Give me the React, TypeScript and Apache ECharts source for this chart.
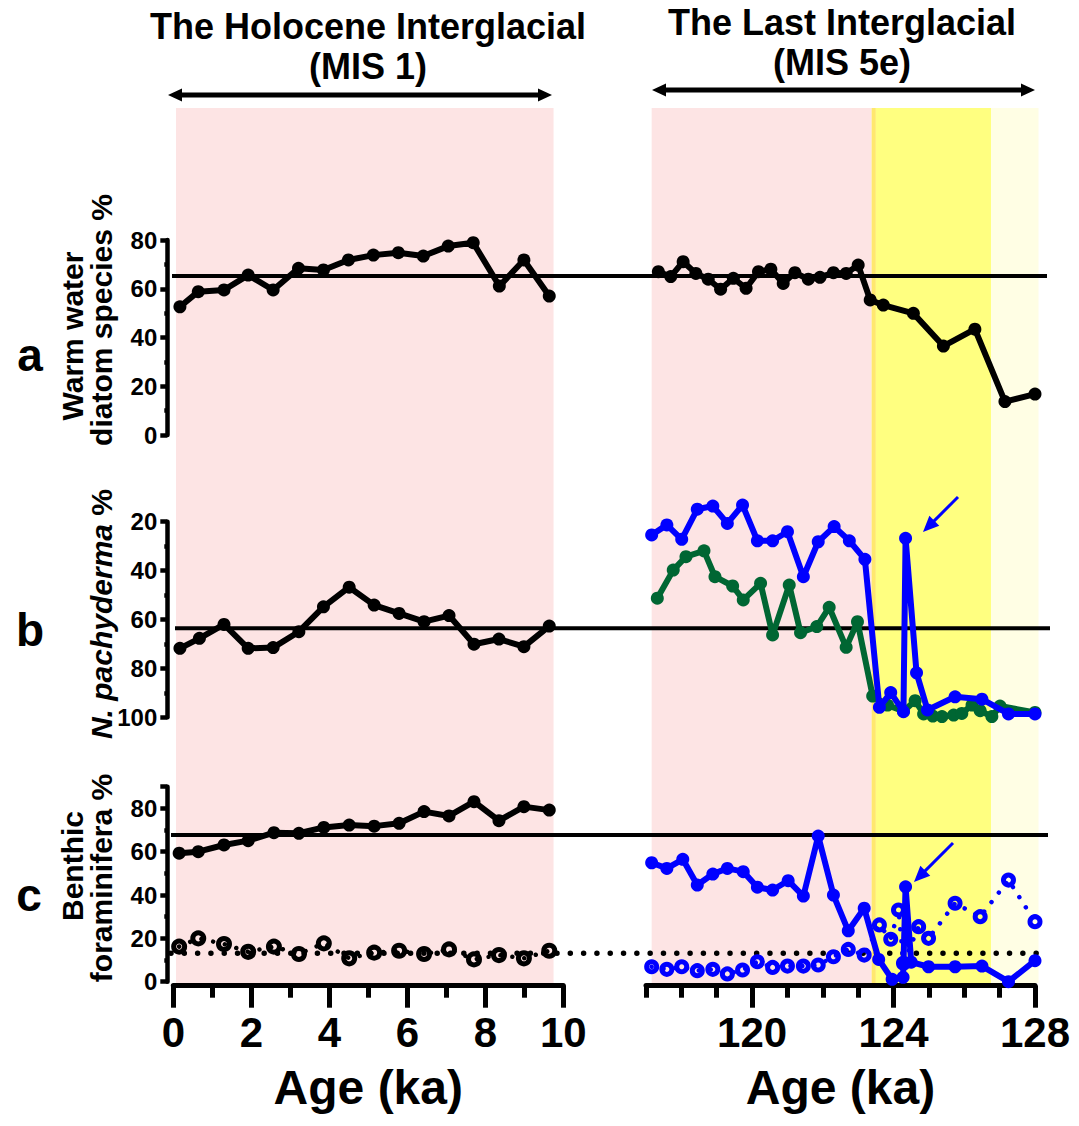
import React, { useEffect, useRef } from 'react';
import * as echarts from 'echarts';

// ---------- DATA ----------
// Panel a: warm water diatom species %
const aHoloAge = [0.17, 0.64, 1.3, 1.92, 2.56, 3.21, 3.85, 4.49, 5.13, 5.77, 6.41, 7.05, 7.69, 8.36, 8.99, 9.64];
const aHoloVal = [52.6, 58.8, 59.5, 65.6, 59.5, 68.4, 67.7, 71.8, 73.8, 74.8, 73.4, 77.5, 78.9, 61.1, 71.8, 57.0];
const aLigAge = [117.35, 117.7, 118.05, 118.41, 118.76, 119.11, 119.47, 119.83, 120.18, 120.53, 120.88, 121.21, 121.59, 121.92, 122.3, 122.66, 123.0, 123.34, 123.71, 124.56, 125.41, 126.3, 127.15, 128.0];
const aLigVal = [67.0, 65.0, 71.1, 66.3, 63.9, 59.8, 64.3, 60.2, 67.0, 68.0, 62.2, 66.6, 63.9, 64.7, 66.6, 66.3, 69.7, 55.4, 53.3, 49.9, 36.5, 43.4, 13.7, 16.8];
const aRef = 65.2;

// Panel b: N. pachyderma %
const bHoloAge = [0.17, 0.67, 1.3, 1.92, 2.56, 3.22, 3.85, 4.51, 5.15, 5.79, 6.43, 7.07, 7.71, 8.35, 8.99, 9.64];
const bHoloVal = [71.8, 67.7, 62.0, 71.8, 71.5, 65.0, 54.8, 46.8, 54.1, 57.5, 60.9, 58.4, 70.1, 68.0, 71.1, 62.7];
const bBlueAge = [117.16, 117.59, 118.01, 118.45, 118.89, 119.3, 119.73, 120.15, 120.58, 121.0, 121.45, 121.87, 122.32, 122.75, 123.19, 123.6, 123.92, 124.28, 124.34, 124.65, 124.96, 125.74, 126.5, 127.25, 128.0];
const bBlueVal = [25.4, 21.3, 27.2, 14.9, 13.6, 20.7, 13.2, 27.8, 27.8, 24.1, 42.5, 28.2, 22.0, 27.8, 35.4, 95.9, 89.9, 97.7, 26.8, 81.8, 97.0, 91.6, 92.6, 98.6, 98.6];
const bGreenAge = [117.32, 117.77, 118.13, 118.64, 118.95, 119.45, 119.75, 120.24, 120.58, 121.05, 121.37, 121.83, 122.18, 122.66, 122.98, 123.41, 123.83, 124.28, 124.61, 124.85, 125.11, 125.37, 125.7, 125.93, 126.22, 126.45, 126.78, 127.01, 128.0];
const bGreenVal = [51.3, 39.8, 34.3, 31.9, 42.5, 46.3, 52.0, 45.2, 66.3, 45.9, 65.4, 62.9, 55.0, 71.4, 60.9, 91.3, 95.0, 97.5, 93.2, 98.6, 99.5, 99.7, 99.1, 98.4, 95.0, 97.3, 99.7, 95.4, 98.0];
const bRef = 63.6;

// Panel c: benthic foraminifera %
const cHoloAge = [0.15, 0.64, 1.3, 1.92, 2.58, 3.22, 3.86, 4.51, 5.15, 5.79, 6.43, 7.07, 7.71, 8.35, 8.99, 9.64];
const cHoloVal = [59.3, 60.0, 63.1, 65.1, 68.8, 68.5, 71.2, 72.3, 71.8, 73.1, 78.5, 76.5, 83.1, 74.3, 80.8, 79.2];
const cHoloOpenVal = [16.2, 20.0, 17.4, 13.8, 16.2, 12.8, 17.7, 10.8, 13.4, 14.3, 12.8, 14.9, 10.3, 12.3, 10.8, 14.3];
const cLigAge = [117.16, 117.59, 118.04, 118.45, 118.89, 119.3, 119.75, 120.15, 120.58, 121.02, 121.45, 121.87, 122.3, 122.72, 123.17, 123.58, 123.96, 124.27, 124.34, 124.5, 124.99, 125.74, 126.5, 127.25, 128.0];
const cLigVal = [54.9, 52.3, 56.5, 44.6, 49.7, 52.3, 50.8, 43.6, 42.3, 46.6, 39.5, 67.2, 40.0, 23.5, 33.9, 10.3, 1.1, 2.0, 43.8, 9.0, 6.9, 6.9, 7.2, 0.0, 9.7];
const cLigOpenAge = [117.16, 117.59, 118.01, 118.45, 118.89, 119.3, 119.73, 120.15, 120.58, 121.0, 121.45, 121.87, 122.3, 122.72, 123.17, 123.6, 123.92, 124.14, 124.28, 124.71, 124.99, 125.74, 126.45, 127.25, 128.0];
const cLigOpenVal = [6.9, 5.7, 6.9, 5.1, 5.7, 3.6, 5.4, 9.2, 6.6, 7.2, 7.2, 7.7, 11.5, 14.9, 12.3, 26.2, 19.6, 33.1, 8.5, 25.4, 20.0, 36.2, 30.0, 46.9, 27.7];
const cRefSolid = 67.7;
const cRefDotted = 13.1;

// Shaded intervals (ka)
const holoPink = [0.07, 9.75];
const ligPink = [117.16, 123.38];
const ligStripe = [123.38, 123.5];
const ligYellow = [123.5, 126.76];
const ligPale = [126.76, 128.1];

// Tick labels
const holoTicks = [0, 2, 4, 6, 8, 10];
const ligTicks = [120, 124, 128];

// ---------- STYLE / LAYOUT ----------
const FONT = '"Liberation Sans", Arial, Helvetica, sans-serif';
const L0 = 173.3, LW = 390;
const R0 = 646, RW = 389;
const PXKA = RW / 11;
const A_TOP = 240, A_H = 195;
const B_TOP = 521.7, B_H = 195.6;
const C_TOP = 786.7, C_H = 195;
const BG_TOP = 108, BG_BOT = 983;

const zip = (xs: number[], ys: number[]) => xs.map((x, i) => [x, ys[i]]);

const hidden = (gridIndex: number, min: number, max: number, inverse = false) => ({
  type: 'value', gridIndex, min, max, inverse, show: false,
});

const yVisible = (gridIndex: number, min: number, max: number, inverse = false) => ({
  type: 'value', gridIndex, min, max, interval: 20, inverse, position: 'left', offset: 6,
  axisLine: { show: true, onZero: false, lineStyle: { color: '#000', width: 4.5 } },
  axisTick: { show: true, length: 7, lineStyle: { color: '#000', width: 4.5 } },
  minorTick: { show: true, splitNumber: 2, length: 3, lineStyle: { color: '#000', width: 4.5 } },
  axisLabel: {
    color: '#000', fontFamily: FONT, fontWeight: 'bold', fontSize: 24, margin: 10,
    formatter: (v: number) => (v % 20 === 0 ? String(v) : ''),
  },
  splitLine: { show: false },
  minorSplitLine: { show: false },
});

const xMinor = (gridIndex: number, min: number, max: number) => ({
  type: 'value', gridIndex, min, max, interval: 1, position: 'bottom', offset: 4,
  axisLine: { show: true, onZero: false, lineStyle: { color: '#000', width: 5, cap: 'round' } },
  axisTick: { show: true, length: 12, lineStyle: { color: '#000', width: 5 } },
  axisLabel: { show: false },
  splitLine: { show: false },
});

const xMajor = (gridIndex: number, min: number, max: number, ticks: number[]) => ({
  type: 'value', gridIndex, min, max, position: 'bottom', offset: 4,
  axisLine: { show: false, onZero: false },
  axisTick: { show: true, length: 22, customValues: ticks, lineStyle: { color: '#000', width: 5 } },
  axisLabel: {
    show: true, customValues: ticks, color: '#000', fontFamily: FONT, fontWeight: 'bold', fontSize: 42, margin: 26,
  },
  splitLine: { show: false },
  name: 'Age (ka)', nameLocation: 'middle', nameGap: 78,
  nameTextStyle: { color: '#000', fontFamily: FONT, fontWeight: 'bold', fontSize: 48 },
});

const dataLine = (xi: number, yi: number, data: number[][], color: string, z = 5) => ({
  type: 'line', xAxisIndex: xi, yAxisIndex: yi, data, clip: false, z,
  symbol: 'circle', symbolSize: 13, showSymbol: true,
  lineStyle: { color, width: 6, join: 'round' },
  itemStyle: { color },
});

const openLine = (xi: number, yi: number, data: number[][], color: string, size: number, z = 4) => ({
  type: 'line', xAxisIndex: xi, yAxisIndex: yi, data, clip: false, z,
  symbol: 'circle', symbolSize: size, showSymbol: true,
  lineStyle: { color, width: 4.5, type: [0.01, 12], cap: 'round' },
  itemStyle: { color: 'rgba(0,0,0,0)', borderColor: color, borderWidth: 5 },
});

const refLine = (xi: number, yi: number, v: number, dotted = false) => ({
  type: 'line', xAxisIndex: xi, yAxisIndex: yi, data: [[0, v], [1, v]], clip: false, z: 3,
  symbol: 'none', silent: true,
  lineStyle: dotted
    ? { color: '#000', width: 5.5, type: [0.01, 13.3], cap: 'round' }
    : { color: '#000', width: 4 },
});

const band = (range: number[], color: string) => [
  { xAxis: range[0], itemStyle: { color } },
  { xAxis: range[1] },
];

function arrow(x1: number, y1: number, x2: number, y2: number, color: string, w: number, hl: number, hw: number) {
  const dx = x2 - x1, dy = y2 - y1;
  const len = Math.sqrt(dx * dx + dy * dy);
  const ux = dx / len, uy = dy / len;
  const px = -uy, py = ux;
  const bx = x2 - ux * hl, by = y2 - uy * hl;
  return [
    { type: 'line', z: 50, shape: { x1, y1, x2: bx + ux * 2, y2: by + uy * 2 }, style: { stroke: color, lineWidth: w } },
    {
      type: 'polygon', z: 50,
      shape: { points: [[x2, y2], [bx + px * hw, by + py * hw], [bx - px * hw, by - py * hw]] },
      style: { fill: color },
    },
  ];
}

function doubleArrow(x1: number, x2: number, y: number) {
  return [
    { type: 'line', z: 50, shape: { x1: x1 + 8, y1: y, x2: x2 - 8, y2: y }, style: { stroke: '#000', lineWidth: 5 } },
    { type: 'polygon', z: 50, shape: { points: [[x1, y], [x1 + 14, y - 6.5], [x1 + 14, y + 6.5]] }, style: { fill: '#000' } },
    { type: 'polygon', z: 50, shape: { points: [[x2, y], [x2 - 14, y - 6.5], [x2 - 14, y + 6.5]] }, style: { fill: '#000' } },
  ];
}

const txt = (text: string, x: number, y: number, size: number, rotation = 0, extra: any = {}) => ({
  type: 'text', x, y, rotation, z: 50,
  style: {
    text, fill: '#000', fontFamily: FONT, fontWeight: 'bold', fontSize: size,
    align: 'center', verticalAlign: 'middle', ...extra,
  },
});

function buildOption() {
  const grid = [
    { left: L0, top: BG_TOP, width: LW, height: BG_BOT - BG_TOP }, // 0 bg left
    { left: R0, top: BG_TOP, width: PXKA * 11.1, height: BG_BOT - BG_TOP }, // 1 bg right
    { left: L0, top: A_TOP, width: LW, height: A_H }, // 2 aL
    { left: R0, top: A_TOP, width: RW, height: A_H }, // 3 aR
    { left: L0, top: B_TOP, width: LW, height: B_H }, // 4 bL
    { left: R0, top: B_TOP, width: RW, height: B_H }, // 5 bR
    { left: L0, top: C_TOP, width: LW, height: C_H }, // 6 cL
    { left: R0, top: C_TOP, width: RW, height: C_H }, // 7 cR
    { left: 172, top: A_TOP, width: 875, height: A_H }, // 8 ref a
    { left: 175, top: B_TOP, width: 875, height: B_H }, // 9 ref b
    { left: 171, top: C_TOP, width: 877, height: C_H }, // 10 ref c
  ].map((g) => ({ ...g, containLabel: false, outerBoundsMode: 'none' }));

  const xAxis = [
    hidden(0, 0, 10), // 0
    hidden(1, 117, 128.1), // 1
    hidden(2, 0, 10), // 2
    hidden(3, 117, 128), // 3
    hidden(4, 0, 10), // 4
    hidden(5, 117, 128), // 5
    xMinor(6, 0, 10), // 6
    xMajor(6, 0, 10, holoTicks), // 7
    xMinor(7, 117, 128), // 8
    xMajor(7, 117, 128, ligTicks), // 9
    hidden(8, 0, 1), // 10
    hidden(9, 0, 1), // 11
    hidden(10, 0, 1), // 12
  ];

  const yAxis = [
    hidden(0, 0, 1), // 0
    hidden(1, 0, 1), // 1
    yVisible(2, 0, 80), // 2
    hidden(3, 0, 80), // 3
    yVisible(4, 20, 100, true), // 4
    hidden(5, 20, 100, true), // 5
    yVisible(6, 0, 90), // 6
    hidden(7, 0, 90), // 7
    hidden(8, 0, 80), // 8
    hidden(9, 20, 100, true), // 9
    hidden(10, 0, 90), // 10
  ];

  const series: any[] = [
    {
      type: 'line', xAxisIndex: 0, yAxisIndex: 0, data: [], z: 0, silent: true,
      markArea: { silent: true, data: [band(holoPink, '#fde4e4')] },
    },
    {
      type: 'line', xAxisIndex: 1, yAxisIndex: 1, data: [], z: 0, silent: true,
      markArea: {
        silent: true,
        data: [
          band(ligPink, '#fde4e4'),
          band(ligStripe, '#ffe86e'),
          band(ligYellow, '#ffff80'),
          band(ligPale, '#fffee4'),
        ],
      },
    },
    refLine(10, 8, aRef),
    refLine(11, 9, bRef),
    refLine(12, 10, cRefSolid),
    refLine(12, 10, cRefDotted, true),
    dataLine(2, 2, zip(aHoloAge, aHoloVal), '#000'),
    dataLine(3, 3, zip(aLigAge, aLigVal), '#000'),
    dataLine(4, 4, zip(bHoloAge, bHoloVal), '#000'),
    dataLine(5, 5, zip(bGreenAge, bGreenVal), '#006633', 5),
    dataLine(5, 5, zip(bBlueAge, bBlueVal), '#0000ff', 6),
    dataLine(6, 6, zip(cHoloAge, cHoloVal), '#000'),
    openLine(6, 6, zip(cHoloAge, cHoloOpenVal), '#000', 11),
    openLine(8, 7, zip(cLigOpenAge, cLigOpenVal), '#0000ff', 10),
    dataLine(8, 7, zip(cLigAge, cLigVal), '#0000ff', 6),
  ];

  const graphic: any[] = [
    txt('The Holocene Interglacial', 368, 26, 36),
    txt('(MIS 1)', 368, 66, 36),
    txt('The Last Interglacial', 842, 22, 36),
    txt('(MIS 5e)', 842, 62, 36),
    ...doubleArrow(168, 552, 95),
    ...doubleArrow(652, 1035, 90),
    txt('a', 30, 355, 46),
    txt('b', 30, 630, 46),
    txt('c', 29, 895, 46),
    txt('Warm water', 72, 336, 30, Math.PI / 2),
    txt('diatom species %', 101, 320, 30, Math.PI / 2),
    txt('{it|N. pachyderma} %', 101, 614, 30, Math.PI / 2, {
      rich: { it: { fontStyle: 'italic', fontWeight: 'bold', fontSize: 30, fontFamily: FONT, fill: '#000' } },
    }),
    txt('Benthic', 72, 866, 30, Math.PI / 2),
    txt('foraminifera %', 101, 878, 30, Math.PI / 2),
    ...arrow(958, 497, 923, 532, '#0000ff', 3, 16, 7),
    ...arrow(953, 843, 914, 882, '#0000ff', 3, 16, 7),
  ];

  return { animation: false, backgroundColor: '#ffffff', grid, xAxis, yAxis, series, graphic };
}

export default function App() {
  const ref = useRef<HTMLDivElement>(null);
  useEffect(() => {
    if (!ref.current) return;
    const chart = echarts.init(ref.current, null, { renderer: 'svg' });
    chart.setOption(buildOption() as any);
    return () => chart.dispose();
  }, []);
  return (
    <div
      ref={ref}
      style={{ position: 'absolute', left: 0, top: 0, width: 1079, height: 1126, background: '#fff' }}
    />
  );
}
